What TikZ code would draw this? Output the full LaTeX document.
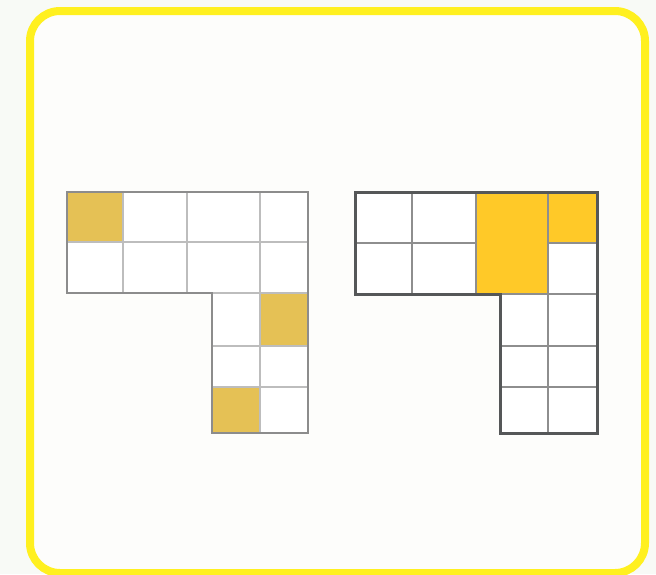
\documentclass[tikz,border=0pt]{standalone}
\definecolor{bg}{HTML}{FDFDFB}
\definecolor{outbg}{HTML}{F8FAF6}
\definecolor{frameyellow}{HTML}{FFF01F}
\definecolor{mustard}{HTML}{E5C155}
\definecolor{gold}{HTML}{FFC928}
\definecolor{lightgrid}{HTML}{BDBDBD}
\definecolor{midborder}{HTML}{8C8C8C}
\definecolor{darkborder}{HTML}{555758}
\definecolor{midgrid}{HTML}{8E8E8E}
\tikzset{
  frame/.style={draw=frameyellow, line width=8pt, fill=bg, rounded corners=30pt},
  lgrid/.style={draw=lightgrid, line width=2pt},
  lborder/.style={draw=midborder, line width=2pt, line join=miter},
  rgrid/.style={draw=midgrid, line width=2.6pt},
  rborder/.style={draw=darkborder, line width=3pt, line join=miter},
}
\begin{document}
\begin{tikzpicture}[x=1pt,y=-1pt]
\useasboundingbox (0,0) rectangle (656,574);
\fill[outbg] (0,0) rectangle (656,574);
\path[frame] (30,11) rectangle (645,573);
% left figure
\fill[white] (67,192) -- (308,192) -- (308,433) -- (212,433) -- (212,293) -- (67,293) -- cycle;
\fill[mustard] (67,192) rectangle (123,242);
\fill[mustard] (260,293) rectangle (308,346);
\fill[mustard] (212,387) rectangle (260,433);
\draw[lgrid] (67,242) -- (308,242);
\draw[lgrid] (212,293) -- (308,293);
\draw[lgrid] (212,346) -- (308,346);
\draw[lgrid] (212,387) -- (308,387);
\draw[lgrid] (123,192) -- (123,293);
\draw[lgrid] (187,192) -- (187,293);
\draw[lgrid] (260,192) -- (260,433);
\draw[lborder] (67,192) -- (308,192) -- (308,433) -- (212,433) -- (212,293) -- (67,293) -- cycle;
% right figure
\fill[white] (355,192) -- (597,192) -- (597,433) -- (500,433) -- (500,294) -- (355,294) -- cycle;
\fill[gold] (476,192) rectangle (548,294);
\fill[gold] (548,192) rectangle (597,243);
\draw[rgrid] (355,243) -- (476,243);
\draw[rgrid] (548,243) -- (597,243);
\draw[rgrid] (500,294) -- (597,294);
\draw[rgrid] (500,346) -- (597,346);
\draw[rgrid] (500,387) -- (597,387);
\draw[rgrid] (412,192) -- (412,294);
\draw[rgrid] (476,192) -- (476,294);
\draw[rgrid] (548,192) -- (548,433);
\draw[rborder] (355,192) -- (597,192) -- (597,433) -- (500,433) -- (500,294) -- (355,294) -- cycle;
\end{tikzpicture}
\end{document}
